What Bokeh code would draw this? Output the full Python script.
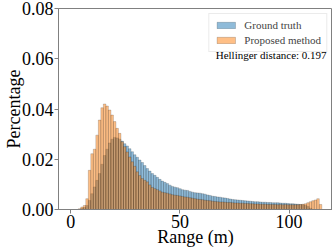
import numpy as np
from bokeh.plotting import figure
from bokeh.models import Range1d, FixedTicker, NumeralTickFormatter, Label, Legend, LegendItem
from bokeh.embed import file_html
from bokeh.resources import INLINE

# Histogram: 100 bins from 0 to 115 m
bin_min = 0.0
bin_max = 115.0
n_bins = 100

ground_truth = [
    0, 0, 0, 0, 0.0004, 0.0008, 0.0016, 0.0036, 0.0063, 0.0090,
    0.0116, 0.0143, 0.0180, 0.0215, 0.0240, 0.0265, 0.0280, 0.0287, 0.0285, 0.0280,
    0.0272, 0.0262, 0.0253, 0.0242, 0.0230, 0.0218, 0.0208, 0.0197, 0.0187, 0.0175,
    0.0163, 0.0153, 0.0143, 0.0136, 0.0128, 0.0120, 0.0113, 0.0108, 0.0103, 0.0097,
    0.0092, 0.0089, 0.0087, 0.0083, 0.0079, 0.0077, 0.0076, 0.0072, 0.0069, 0.0067,
    0.0066, 0.0065, 0.0063, 0.0061, 0.0058, 0.0056, 0.0053, 0.0052, 0.0050, 0.0049,
    0.0047, 0.0046, 0.0044, 0.0042, 0.0040, 0.0039, 0.0038, 0.0037, 0.0036, 0.0035,
    0.0034, 0.0033, 0.0032, 0.0031, 0.0031, 0.0030, 0.0029, 0.0029, 0.0028, 0.0028,
    0.0027, 0.0027, 0.0027, 0.0026, 0.0025, 0.0025, 0.0024, 0.0023, 0.0023, 0.0022,
    0.0021, 0.0020, 0.0019, 0.0017, 0.0012, 0.0005, 0, 0, 0, 0,
]

proposed = [
    0, 0, 0, 0.0003, 0.0010, 0.0016, 0.0043, 0.0156, 0.0222, 0.0240,
    0.0296, 0.0356, 0.0405, 0.0420, 0.0412, 0.0396, 0.0376, 0.0350, 0.0323, 0.0303,
    0.0270, 0.0250, 0.0229, 0.0209, 0.0190, 0.0172, 0.0150, 0.0135, 0.0123, 0.0116,
    0.0110, 0.0098, 0.0088, 0.0083, 0.0079, 0.0074, 0.0069, 0.0067, 0.0065, 0.0062,
    0.0059, 0.0057, 0.0056, 0.0054, 0.0052, 0.0050, 0.0049, 0.0047, 0.0045, 0.0043,
    0.0041, 0.0040, 0.0039, 0.0037, 0.0036, 0.0035, 0.0033, 0.0032, 0.0031, 0.0030,
    0.0030, 0.0029, 0.0028, 0.0028, 0.0027, 0.0026, 0.0026, 0.0025, 0.0025, 0.0024,
    0.0024, 0.0023, 0.0023, 0.0022, 0.0022, 0.0021, 0.0021, 0.0021, 0.0020, 0.0020,
    0.0020, 0.0020, 0.0019, 0.0020, 0.0019, 0.0020, 0.0019, 0.0019, 0.0019, 0.0019,
    0.0019, 0.0020, 0.0021, 0.0023, 0.0027, 0.0031, 0.0035, 0.0038, 0.0043, 0.0020,
]

series_labels = ["Ground truth", "Proposed method"]
hellinger = 0.197
x_ticks = [0, 50, 100]
y_ticks = [0.0, 0.02, 0.04, 0.06, 0.08]

edges = np.linspace(bin_min, bin_max, n_bins + 1)
centers = (edges[:-1] + edges[1:]) / 2
bin_w = edges[1] - edges[0]

FONT = "Liberation Serif"

p = figure(width=332, height=249, output_backend="svg", toolbar_location=None,
           x_range=Range1d(-5.6, 119.9), y_range=Range1d(0, 0.08),
           min_border_left=0, min_border_right=0, min_border_top=8, min_border_bottom=0)

r_gt = p.vbar(x=centers, width=bin_w, bottom=0, top=ground_truth,
              fill_color="#1f77b4", fill_alpha=0.5,
              line_color="black", line_alpha=0.35, line_width=0.5)
r_pm = p.vbar(x=centers, width=bin_w, bottom=0, top=proposed,
              fill_color="#ff7f0e", fill_alpha=0.5,
              line_color="black", line_alpha=0.35, line_width=0.5)

legend = Legend(items=[LegendItem(label=series_labels[0], renderers=[r_gt]),
                       LegendItem(label=series_labels[1], renderers=[r_pm])],
                location="top_right")
legend.label_text_font = FONT
legend.label_text_font_size = "11px"
legend.glyph_width = 23
legend.glyph_height = 8
legend.label_standoff = 7
legend.spacing = 3
legend.padding = 5
legend.margin = 5
legend.label_height = 11
legend.border_line_color = "#d8d8d8"
legend.border_line_width = 1
legend.background_fill_alpha = 0.85
p.add_layout(legend)

p.add_layout(Label(x=117.2, y=0.0613, text=f"Hellinger distance: {hellinger}",
                   text_font=FONT, text_font_size="11px", text_align="right",
                   text_baseline="middle", text_color="black"))

p.xgrid.visible = False
p.ygrid.visible = False
p.outline_line_color = "#808080"
p.outline_line_width = 1

for ax in (p.xaxis[0], p.yaxis[0]):
    ax.axis_line_color = "#808080"
    ax.major_tick_line_color = "#808080"
    ax.major_tick_out = 4
    ax.major_tick_in = 0
    ax.minor_tick_line_color = None
    ax.major_label_text_font = FONT
    ax.major_label_text_font_size = "18px"
    ax.major_label_text_color = "black"
    ax.axis_label_text_font = FONT
    ax.axis_label_text_font_size = "18px"
    ax.axis_label_text_font_style = "normal"
    ax.axis_label_text_color = "black"

p.xaxis.ticker = FixedTicker(ticks=x_ticks)
p.yaxis.ticker = FixedTicker(ticks=y_ticks)
p.yaxis.formatter = NumeralTickFormatter(format="0.00")
p.xaxis.axis_label = "Range (m)"
p.yaxis.axis_label = "Percentage"
p.xaxis.major_label_standoff = 1
p.yaxis.major_label_standoff = 1
p.xaxis.axis_label_standoff = -4
p.yaxis.axis_label_standoff = -5

open("out.html", "w").write(file_html(p, INLINE))
